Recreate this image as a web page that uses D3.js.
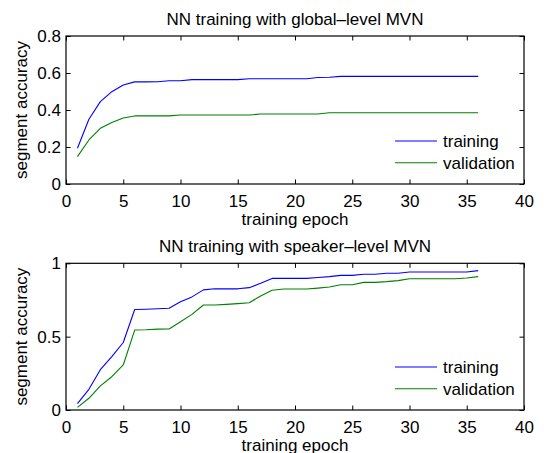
<!DOCTYPE html>
<html>
<head>
<meta charset="utf-8">
<script src="https://cdn.jsdelivr.net/npm/d3@7"></script>
<style>
  html, body { margin: 0; padding: 0; background: #fff; }
  svg { display: block; }
  text { font-family: "Liberation Sans", Arial, Helvetica, sans-serif; fill: #000; }
</style>
</head>
<body>
<svg id="chart" width="550" height="453"></svg>
<script>
// ---------- data ----------
const epochs = d3.range(1, 37);

const globalTraining = [
  0.193, 0.350, 0.445, 0.499, 0.535, 0.552, 0.552, 0.553, 0.558, 0.558,
  0.564, 0.564, 0.564, 0.564, 0.564, 0.569, 0.569, 0.569, 0.569, 0.569,
  0.569, 0.576, 0.577, 0.582, 0.582, 0.582, 0.582, 0.582, 0.582, 0.582,
  0.582, 0.582, 0.582, 0.582, 0.582, 0.582
];
const globalValidation = [
  0.148, 0.238, 0.301, 0.333, 0.357, 0.368, 0.368, 0.368, 0.368, 0.373,
  0.373, 0.373, 0.373, 0.373, 0.373, 0.373, 0.378, 0.378, 0.378, 0.378,
  0.378, 0.378, 0.385, 0.385, 0.385, 0.385, 0.385, 0.385, 0.385, 0.385,
  0.385, 0.385, 0.385, 0.385, 0.385, 0.385
];
const speakerTraining = [
  0.044, 0.141, 0.275, 0.364, 0.460, 0.685, 0.687, 0.690, 0.694, 0.738,
  0.771, 0.819, 0.826, 0.826, 0.826, 0.834, 0.864, 0.897, 0.897, 0.897,
  0.897, 0.903, 0.909, 0.918, 0.918, 0.925, 0.925, 0.932, 0.932, 0.941,
  0.941, 0.941, 0.941, 0.941, 0.941, 0.950
];
const speakerValidation = [
  0.018, 0.080, 0.164, 0.227, 0.307, 0.545, 0.547, 0.551, 0.552, 0.602,
  0.652, 0.716, 0.716, 0.720, 0.725, 0.731, 0.777, 0.816, 0.825, 0.825,
  0.825, 0.831, 0.838, 0.854, 0.854, 0.870, 0.870, 0.875, 0.882, 0.895,
  0.895, 0.895, 0.895, 0.895, 0.900, 0.909
];

const xTicks = [0, 5, 10, 15, 20, 25, 30, 35, 40];
const yTicksGlobal = [0, 0.2, 0.4, 0.6, 0.8];
const yTicksSpeaker = [0, 0.5, 1];
const seriesNames = ["training", "validation"];
const seriesColors = ["#0000ff", "#008000"];

const panels = [
  { title: "NN training with global\u2013level MVN", yMax: 0.8, yTicks: yTicksGlobal,
    yFmt: d => d === 0 ? "0" : d3.format(".1f")(d),
    series: [globalTraining, globalValidation], top: 36, bottom: 184 },
  { title: "NN training with speaker\u2013level MVN", yMax: 1, yTicks: yTicksSpeaker,
    yFmt: d => String(d),
    series: [speakerTraining, speakerValidation], top: 263.3, bottom: 410 }
];

// ---------- drawing ----------
const svg = d3.select("#chart");
const left = 66, right = 524;
const FS = 17;
const tick = 4.5;

const x = d3.scaleLinear().domain([0, 40]).range([left, right]);

panels.forEach(p => {
  const y = d3.scaleLinear().domain([0, p.yMax]).range([p.bottom, p.top]);
  const g = svg.append("g");

  // title
  g.append("text")
    .attr("x", (left + right) / 2)
    .attr("y", p.top - 11)
    .attr("text-anchor", "middle")
    .attr("font-size", FS)
    .text(p.title);

  // axes
  const styleAxis = sel => {
    sel.select(".domain").remove();
    sel.selectAll("line").attr("stroke", "#000").attr("stroke-width", 1);
    sel.selectAll("text").attr("font-size", FS).attr("fill", "#000");
    sel.attr("font-family", null).attr("font-size", null);
  };

  g.append("g").attr("transform", `translate(0,${p.bottom})`)
    .call(d3.axisBottom(x).tickValues(xTicks).tickFormat(d3.format("d"))
      .tickSizeInner(-tick).tickSizeOuter(0).tickPadding(11))
    .call(styleAxis);
  g.append("g").attr("transform", `translate(0,${p.top})`)
    .call(d3.axisTop(x).tickValues(xTicks).tickFormat("")
      .tickSizeInner(-tick).tickSizeOuter(0))
    .call(styleAxis);
  g.append("g").attr("transform", `translate(${left},0)`)
    .call(d3.axisLeft(y).tickValues(p.yTicks).tickFormat(p.yFmt)
      .tickSizeInner(-tick).tickSizeOuter(0).tickPadding(5))
    .call(styleAxis);
  g.append("g").attr("transform", `translate(${right},0)`)
    .call(d3.axisRight(y).tickValues(p.yTicks).tickFormat("")
      .tickSizeInner(-tick).tickSizeOuter(0))
    .call(styleAxis);

  // box
  g.append("rect")
    .attr("x", left).attr("y", p.top)
    .attr("width", right - left).attr("height", p.bottom - p.top)
    .attr("fill", "none").attr("stroke", "#000").attr("stroke-width", 1.2);

  // lines
  const line = d3.line().x((d, i) => x(epochs[i])).y(d => y(d));
  p.series.forEach((s, k) => {
    g.append("path").datum(s)
      .attr("d", line)
      .attr("fill", "none")
      .attr("stroke", seriesColors[k])
      .attr("stroke-width", 1.1)
      .attr("stroke-linejoin", "round");
  });

  // legend
  seriesNames.forEach((name, k) => {
    const ly = p.bottom - 43 + k * 21.7;
    g.append("line")
      .attr("x1", 395).attr("x2", 437)
      .attr("y1", ly).attr("y2", ly)
      .attr("stroke", seriesColors[k]).attr("stroke-width", 1.1);
    g.append("text")
      .attr("x", 443).attr("y", ly).attr("dy", "0.35em")
      .attr("font-size", FS)
      .text(name);
  });

  // x label
  g.append("text")
    .attr("x", (left + right) / 2)
    .attr("y", p.bottom + 41)
    .attr("text-anchor", "middle")
    .attr("font-size", FS)
    .text("training epoch");

  // y label
  g.append("text")
    .attr("transform", `translate(26.5,${(p.top + p.bottom) / 2}) rotate(-90)`)
    .attr("text-anchor", "middle")
    .attr("font-size", FS)
    .text("segment accuracy");
});
</script>
</body>
</html>
